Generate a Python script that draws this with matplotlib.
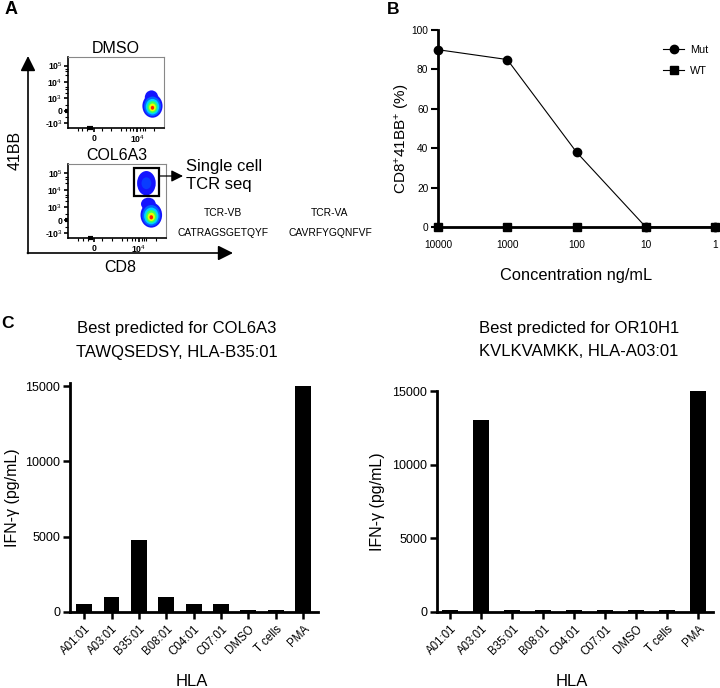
import numpy as np
import matplotlib
matplotlib.use("Agg")
import matplotlib.pyplot as plt
from matplotlib.patches import Ellipse, Rectangle
from matplotlib.ticker import NullLocator

plt.rcParams['font.family'] = ['Liberation Sans', 'DejaVu Sans']
plt.rcParams['mathtext.fontset'] = 'custom'
plt.rcParams['mathtext.rm'] = 'Liberation Sans'
plt.rcParams['mathtext.it'] = 'Liberation Sans:italic'
plt.rcParams['mathtext.bf'] = 'Liberation Sans:bold'

# panel A: flow plot labels and TCR sequences
flow_yticks = ["10$^5$", "10$^4$", "10$^3$", "0", "-10$^3$"]
flow_xticks = ["0", "10$^4$"]
tcr_chains = ["TCR-VB", "TCR-VA"]
tcr_cdr3 = ["CATRAGSGETQYF", "CAVRFYGQNFVF"]

# panel B: activation vs peptide concentration
conc = [10000, 1000, 100, 10, 1]
mut = [90, 85, 38, 0, 0]
wt = [0, 0, 0, 0, 0]

# panel C: IFN-gamma release
hla = ["A01:01", "A03:01", "B35:01", "B08:01", "C04:01", "C07:01", "DMSO", "T cells", "PMA"]
ifng_col6a3 = [500, 1000, 4800, 1000, 500, 500, 150, 150, 15000]
ifng_or10h1 = [150, 13000, 150, 150, 150, 150, 150, 150, 15000]

W, H = 720, 688
fig = plt.figure(figsize=(7.2, 6.88), dpi=100)


def px_axes(x0, y0, x1, y1):
    return fig.add_axes([x0 / W, 1 - y1 / H, (x1 - x0) / W, (y1 - y0) / H])


# density blobs drawn as nested contours (outer -> inner)
jet = ['#1414ff', '#0064ff', '#00d2ff', '#3cff5a', '#e6ff00', '#ff1e00']


def blob(ax, cx, cy, w, h, levels, dy=0.0):
    for i in range(levels):
        s = 1 - i / levels
        ax.add_patch(Ellipse((cx, cy - dy * i), w * s, h * s, color=jet[i], lw=0))


def flow_plot(box, title):
    ax = px_axes(*box)
    ax.set_xlim(0, 1)
    ax.set_ylim(0, 1)
    ax.set_yticks([0.88, 0.65, 0.42, 0.24, 0.07])
    ax.set_yticklabels(flow_yticks, fontsize=6.3, fontweight='bold')
    ax.set_xticks([0.27, 0.72])
    ax.set_xticklabels(flow_xticks, fontsize=6.3, fontweight='bold')
    ax.set_xticks([0.1, 0.15, 0.2, 0.35, 0.45, 0.55, 0.6, 0.65, 0.68, 0.75, 0.78, 0.8, 0.9], minor=True)
    ax.set_yticks([0.15, 0.33, 0.5, 0.55, 0.58, 0.75, 0.8, 0.83], minor=True)
    ax.tick_params(length=3, width=1.2, pad=1)
    ax.tick_params(which='minor', length=2, width=0.8)
    for s in ['left', 'bottom']:
        ax.spines[s].set_linewidth(1.2)
    for s in ['top', 'right']:
        ax.spines[s].set_color('#888888')
        ax.spines[s].set_linewidth(0.8)
    ax.plot([-0.035, 0.0], [0.24, 0.24], color='black', lw=3, clip_on=False, solid_capstyle='butt')
    ax.plot([0.2, 0.26], [0.0, 0.0], color='black', lw=3, clip_on=False, solid_capstyle='butt')
    ax.set_title(title, fontsize=11.5, pad=3)
    return ax


ax1 = flow_plot((68, 57, 164, 128), "DMSO")
ax1.add_patch(Ellipse((0.87, 0.43), 0.14, 0.2, color=jet[0], lw=0))
blob(ax1, 0.88, 0.31, 0.21, 0.33, 6, dy=0.005)

ax2 = flow_plot((68, 164, 166, 238), "COL6A3")
ax2.add_patch(Ellipse((0.80, 0.74), 0.19, 0.33, color=jet[0], lw=0))
ax2.add_patch(Ellipse((0.80, 0.74), 0.1, 0.16, color='#0a3cff', lw=0))
ax2.add_patch(Ellipse((0.82, 0.46), 0.15, 0.17, color=jet[0], lw=0))
blob(ax2, 0.85, 0.31, 0.22, 0.34, 6, dy=0.006)
ax2.add_patch(Rectangle((0.67, 0.57), 0.26, 0.38, fill=False, lw=1.6, ec='black'))

# overlay in pixel coordinates for arrows and free text
ov = px_axes(0, 0, W, H)
ov.set_xlim(0, W)
ov.set_ylim(H, 0)
ov.axis('off')

arrow = dict(arrowstyle='-|>,head_length=0.9,head_width=0.45', color='black', lw=1.2, shrinkA=0, shrinkB=0)
ov.annotate('', xy=(28, 56), xytext=(28, 253.5), arrowprops=arrow)
ov.annotate('', xy=(233, 253), xytext=(27.4, 253), arrowprops=arrow)
ov.annotate('', xy=(183, 176), xytext=(159, 176),
            arrowprops=dict(arrowstyle='-|>,head_length=0.7,head_width=0.35', color='black', lw=0.9,
                            shrinkA=0, shrinkB=0))
ov.text(15, 150, "41BB", rotation=90, ha='center', va='center', fontsize=11.5)
ov.text(120, 268, "CD8", ha='center', va='center', fontsize=11.5)
ov.text(186, 166, "Single cell", ha='left', va='center', fontsize=12)
ov.text(186, 185, "TCR seq", ha='left', va='center', fontsize=12)
for xc, chain, cdr3 in zip([223, 330], tcr_chains, tcr_cdr3):
    ov.text(xc, 213, chain, ha='center', va='center', fontsize=7.4)
    ov.text(xc, 233, cdr3, ha='center', va='center', fontsize=7.4)

ov.text(5, 9, "A", fontsize=13, fontweight='bold', ha='left', va='center')
ov.text(387, 10, "B", fontsize=12.5, fontweight='bold', ha='left', va='center')
ov.text(1, 323, "C", fontsize=12.5, fontweight='bold', ha='left', va='center')

# panel B
axb = px_axes(438, 30, 715, 227)
axb.set_xscale('log')
axb.set_xlim(10000, 1)
axb.set_ylim(0, 100)
axb.plot(conc, mut, '-o', color='black', lw=0.8, ms=6, clip_on=False, zorder=5, label='Mut')
axb.plot(conc, wt, '-s', color='black', lw=0.8, ms=6, clip_on=False, zorder=5, label='WT')
axb.set_xticks(conc)
axb.set_xticklabels([str(c) for c in conc], fontsize=7.3)
axb.xaxis.set_minor_locator(NullLocator())
axb.set_yticks(range(0, 101, 20))
axb.tick_params(axis='y', labelsize=7.3, length=5, width=1.5, pad=2)
axb.tick_params(axis='x', length=0, pad=9)
for s in ['top', 'right']:
    axb.spines[s].set_visible(False)
for s in ['left', 'bottom']:
    axb.spines[s].set_linewidth(2)
axb.set_ylabel("CD8$^{+}$41BB$^{+}$ (%)", fontsize=11)
axb.yaxis.set_label_coords(-0.095, 0.45)
axb.set_xlabel("Concentration ng/mL", fontsize=11.8, labelpad=13)
axb.legend(loc='upper right', bbox_to_anchor=(1.01, 0.975), frameon=False, fontsize=7.8,
           handlelength=2.0, handletextpad=0.5, labelspacing=1.0)


# panel C
def bar_panel(box, values, width, xlim, ylim_top, title, tx, hx):
    ax = px_axes(*box)
    x = np.arange(len(hla))
    ax.bar(x, values, width=width, color='black')
    ax.set_xlim(*xlim)
    ax.set_ylim(0, ylim_top)
    ax.set_yticks([0, 5000, 10000, 15000])
    ax.set_xticks(x)
    ax.set_xticklabels(hla, rotation=45, ha='right', rotation_mode='anchor', fontsize=8.3)
    ax.tick_params(axis='y', labelsize=9, length=5, width=1.8, pad=2)
    ax.tick_params(axis='x', length=5, width=1.8, pad=3)
    for s in ['top', 'right']:
        ax.spines[s].set_visible(False)
    for s in ['left', 'bottom']:
        ax.spines[s].set_linewidth(2)
    ax.set_ylabel("IFN-\u03b3 (pg/mL)", fontsize=11.5)
    ov.text(tx, 328, title[0], ha='center', va='center', fontsize=12)
    ov.text(tx, 352, title[1], ha='center', va='center', fontsize=12)
    ov.text(hx, 682, "HLA", ha='center', va='center', fontsize=12)
    return ax


axc1 = bar_panel((70, 383, 318, 612), ifng_col6a3, 0.58, (-0.52, 8.55), 15200,
                 ("Best predicted for COL6A3", "TAWQSEDSY, HLA-B35:01"), 177, 192)
axc1.yaxis.set_label_coords(-0.2, 0.5)
axc2 = bar_panel((437, 391, 713, 612), ifng_or10h1, 0.5, (-0.42, 8.48), 15000,
                 ("Best predicted for OR10H1", "KVLKVAMKK, HLA-A03:01"), 579, 572)
axc2.yaxis.set_label_coords(-0.19, 0.5)

fig.savefig("out.png", dpi=100)
